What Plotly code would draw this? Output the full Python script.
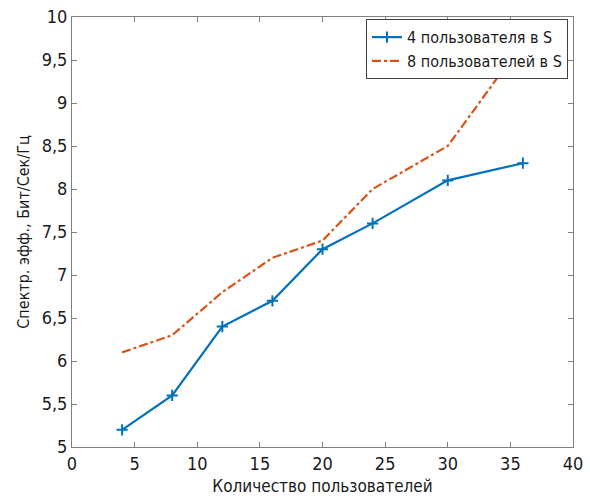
import plotly.graph_objects as go

users = [4, 8, 12, 16, 20, 24, 30, 36]
se_4 = [5.2, 5.6, 6.4, 6.7, 7.3, 7.6, 8.1, 8.3]
se_8 = [6.1, 6.3, 6.8, 7.2, 7.4, 8.0, 8.5, 9.7]
names = ["4 пользователя в S", "8 пользователей в S"]

FONT = "DejaVu Sans Condensed, Liberation Sans Narrow, Roboto Condensed, Liberation Sans"

fig = go.Figure()
fig.add_trace(go.Scatter(
    x=users, y=se_4, name=names[0], mode="lines+markers",
    line=dict(color="#0072BD", width=2.2),
    marker=dict(symbol="cross-thin", size=8, line=dict(color="#0072BD", width=2)),
))
fig.add_trace(go.Scatter(
    x=users, y=se_8, name=names[1], mode="lines",
    line=dict(color="#D95319", width=2.2, dash="dashdot"),
))

axis_common = dict(
    showgrid=False, zeroline=False, showline=True, mirror="ticks",
    linecolor="#808080", linewidth=1, ticks="inside", ticklen=5,
    tickcolor="#808080", tickfont=dict(size=18, color="#1a1a1a", family=FONT),
    automargin=False,
)
fig.update_layout(
    width=590, height=500,
    margin=dict(l=72, r=17, t=17, b=53),
    paper_bgcolor="white", plot_bgcolor="white",
    separators=", ",
    font=dict(family=FONT, color="#1a1a1a"),
    xaxis=dict(range=[0, 40], dtick=5, tick0=0,
               title=dict(text="Количество пользователей", font=dict(size=17), standoff=7),
               **axis_common),
    yaxis=dict(range=[5, 10], dtick=0.5, tick0=5,
               title=dict(text="Спектр. эфф., Бит/Сек/Гц", font=dict(size=16), standoff=8),
               **axis_common),
    legend=dict(x=0.99, y=0.995, xanchor="right", yanchor="top",
                bgcolor="white", bordercolor="#404040", borderwidth=1,
                font=dict(size=16, family=FONT), tracegroupgap=0,
                itemwidth=30),
    showlegend=True,
)
fig.write_html("out.html")
